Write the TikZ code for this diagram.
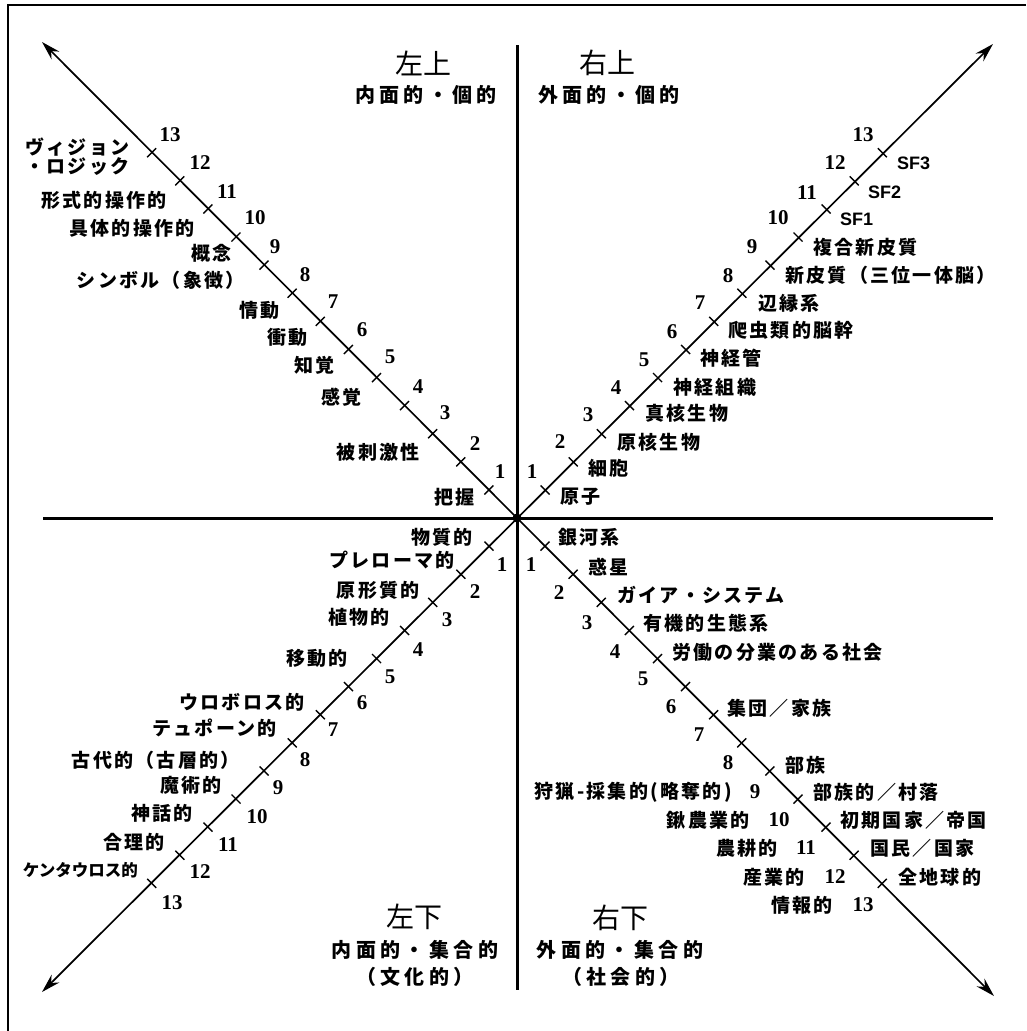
\documentclass[tikz,border=0pt]{standalone}
\usepackage{fontspec}
\setmainfont{Noto Sans CJK JP}
\newfontfamily\labf[LetterSpace=12]{Noto Sans CJK JP}
\newfontfamily\subf[LetterSpace=22]{Noto Sans CJK JP}
\newfontfamily\ttlf{Noto Sans CJK JP}
\newfontfamily\numf{Liberation Serif}
\newfontfamily\sff{Liberation Sans}
\usetikzlibrary{arrows.meta}
\tikzset{
  lbl/.style={inner sep=0pt, font=\labf\bfseries\fontsize{19}{21}\selectfont},
  lblE/.style={lbl, anchor=east},
  lblW/.style={lbl, anchor=west},
  num/.style={inner sep=0pt, font=\numf\bfseries\fontsize{21}{23}\selectfont},
  sfl/.style={inner sep=0pt, anchor=west, font=\sff\bfseries\fontsize{18}{20}\selectfont},
  quad/.style={inner sep=0pt, font=\ttlf\fontsize{28}{30}\selectfont},
  qsub/.style={inner sep=0pt, font=\subf\bfseries\fontsize{20}{22}\selectfont},
  axis/.style={line width=3pt},
  diag/.style={line width=1.7pt, {Stealth[length=19pt,width=11pt]}-{Stealth[length=19pt,width=11pt]}},
  tk/.style={line width=1.4pt},
  frame/.style={line width=2.5pt}
}
\begin{document}
\begin{tikzpicture}[x=1pt,y=-1pt]
\useasboundingbox (0,0) rectangle (1026,1031);
% frame (top and left only)
\coordinate (F1) at (8,1031);
\coordinate (F2) at (8,5);
\coordinate (F3) at (1026,5);
\draw[frame] (F1) -- (F2) -- (F3);
% axes
\coordinate (O) at (517,518);
\coordinate (AL) at (43,518);
\coordinate (AR) at (993,518);
\coordinate (AT) at (517,45);
\coordinate (AB) at (517,990);
\draw[axis] (AL) -- (AR);
\draw[axis] (AT) -- (AB);
% diagonals
\coordinate (UL) at (42,42);
\coordinate (UR) at (993,44);
\coordinate (LL) at (42,992);
\coordinate (LR) at (994,996);
\draw[diag] (UL) -- (LR);
\draw[diag] (LL) -- (UR);
\fill (O) circle[radius=4.5pt];
% ticks
\foreach \k in {1,...,13}{
  \draw[tk] (517-28.1*\k-4.5, 518-28.1*\k+4.5) -- ++(9,-9);
  \draw[tk] (517+28.1*\k-4.5, 518-28.1*\k-4.5) -- ++(9,9);
  \draw[tk] (517-28.1*\k-4.5, 518+28.1*\k-4.5) -- ++(9,9);
  \draw[tk] (517+28.1*\k-4.5, 518+28.1*\k+4.5) -- ++(9,-9);
}
% numbers
\foreach \k/\x/\y in {1/500/472,2/475/444,3/445/413,4/418/387,5/390/357,6/362/330,7/333/302,8/305/275,9/275/247,10/255/218,11/227/192,12/200/163,13/170/135}
  \node[num] (nul\k) at (\x,\y) {\k};
\foreach \k/\x/\y in {1/532/472,2/560/442,3/588/415,4/616/388,5/644/360,6/672/332,7/700/303,8/728/276,9/752/247,10/778/218,11/807/193,12/835/163,13/863/135}
  \node[num] (nur\k) at (\x,\y) {\k};
\foreach \k/\x/\y in {1/502/565,2/475/592,3/447/620,4/418/650,5/390/677,6/362/703,7/333/730,8/305/760,9/278/788,10/257/817,11/228/845,12/200/872,13/172/903}
  \node[num] (nll\k) at (\x,\y) {\k};
\foreach \k/\x/\y in {1/531/565,2/559/593,3/587/623,4/615/652,5/643/679,6/671/707,7/699/735,8/728/763,9/755/792,10/779/820,11/806/848,12/835/877,13/863/905}
  \node[num] (nlr\k) at (\x,\y) {\k};
% quadrant titles
\node[quad] (q1) at (423,63) {左上};
\node[qsub] (q1s) at (426,95) {内面的・個的};
\node[quad] (q2) at (607,63) {右上};
\node[qsub] (q2s) at (609,95) {外面的・個的};
\node[quad] (q3) at (414,917) {左下};
\node[qsub] (q3s) at (415,950) {内面的・集合的};
\node[qsub] (q3t) at (415,977) {（文化的）};
\node[quad] (q4) at (620,918) {右下};
\node[qsub] (q4s) at (620,950) {外面的・集合的};
\node[qsub] (q4t) at (621,977) {（社会的）};
% upper left labels
\node[lblW] (ul13a) at (25,147) {ヴィジョン};
\node[lblW] (ul13b) at (25,167) {・ロジック};
\node[lblE] (ul12) at (167,200) {形式的操作的};
\node[lblE] (ul11) at (195,228) {具体的操作的};
\node[lblE] (ul10) at (232,253) {概念};
\node[lblE] (ul9) at (245,280) {シンボル（象徴）};
\node[lblE] (ul8) at (280,310) {情動};
\node[lblE] (ul7) at (308,337) {衝動};
\node[lblE] (ul6) at (335,365) {知覚};
\node[lblE] (ul5) at (362,397) {感覚};
\node[lblE] (ul4) at (420,452) {被刺激性};
\node[lblE] (ul3) at (475,497) {把握};
% upper right labels
\node[lblW] (ur1) at (560,497) {原子};
\node[lblW] (ur2) at (588,468) {細胞};
\node[lblW] (ur3) at (617,442) {原核生物};
\node[lblW] (ur4) at (645,413) {真核生物};
\node[lblW] (ur5) at (673,387) {神経組織};
\node[lblW] (ur6) at (700,358) {神経管};
\node[lblW] (ur7) at (728,330) {爬虫類的脳幹};
\node[lblW] (ur8) at (758,303) {辺縁系};
\node[lblW] (ur9) at (785,275) {新皮質（三位一体脳）};
\node[lblW] (ur10) at (813,247) {複合新皮質};
\node[sfl] (ur11) at (840,219) {SF1};
\node[sfl] (ur12) at (868,192) {SF2};
\node[sfl] (ur13) at (897,163) {SF3};
% lower left labels
\node[lblE] (ll1) at (473,537) {物質的};
\node[lblE] (ll2) at (455,560) {プレローマ的};
\node[lblE] (ll3) at (420,590) {原形質的};
\node[lblE] (ll4) at (390,617) {植物的};
\node[lblE] (ll5) at (348,658) {移動的};
\node[lblE] (ll6) at (305,702) {ウロボロス的};
\node[lblE] (ll7) at (277,728) {テュポーン的};
\node[lblE] (ll8) at (240,760) {古代的（古層的）};
\node[lblE] (ll9) at (222,785) {魔術的};
\node[lblE] (ll10) at (193,813) {神話的};
\node[lblE] (ll11) at (165,842) {合理的};
\node[anchor=east, inner sep=0pt, font=\ttlf\bfseries\fontsize{16.5}{18}\selectfont] (ll12) at (138,870) {ケンタウロス的};
% lower right labels
\node[lblW] (lr1) at (558,537) {銀河系};
\node[lblW] (lr2) at (588,567) {惑星};
\node[lblW] (lr3) at (617,595) {ガイア・システム};
\node[lblW] (lr4) at (643,623) {有機的生態系};
\node[lblW] (lr5) at (672,652) {労働の分業のある社会};
\node[lblW] (lr6) at (727,708) {集団／家族};
\node[lblW] (lr7) at (785,765) {部族};
\node[lblW] (lr8) at (813,792) {部族的／村落};
\node[lblW] (lr9) at (840,820) {初期国家／帝国};
\node[lblW] (lr10) at (870,848) {国民／国家};
\node[lblW] (lr11) at (898,877) {全地球的};
\node[lblE] (lrl9) at (732,792) {狩猟-採集的(略奪的)};
\node[lblE] (lrl10) at (750,820) {鍬農業的};
\node[lblE] (lrl11) at (778,848) {農耕的};
\node[lblE] (lrl12) at (805,877) {産業的};
\node[lblE] (lrl13) at (833,905) {情報的};
\end{tikzpicture}
\end{document}
